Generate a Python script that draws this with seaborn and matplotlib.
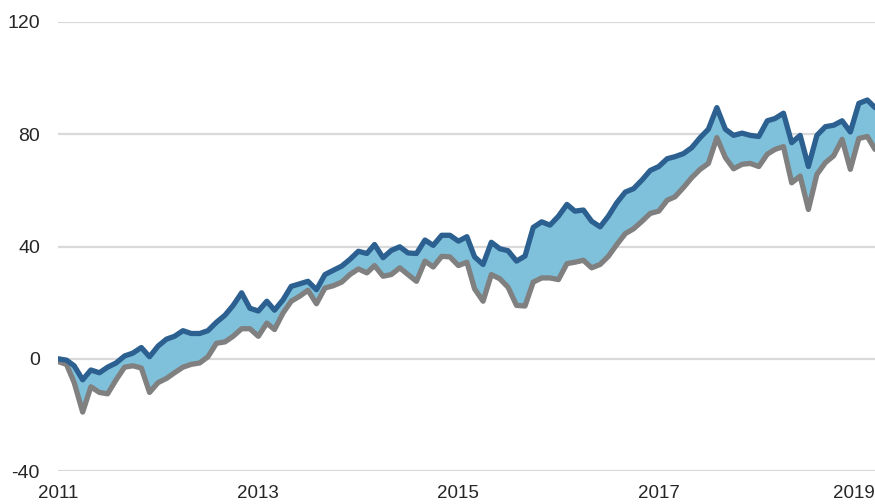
import numpy as np
import pandas as pd
import seaborn as sns
import matplotlib.pyplot as plt
from matplotlib.transforms import ScaledTranslation

# monthly values, Jan 2011 - Mar 2019
upper = [0, -0.5, -2.5, -7.5, -4, -5, -3, -1.5, 1, 2,
         4, 0.7, 4.5, 7, 8, 10, 9, 9, 10, 13,
         15.5, 19, 23.5, 18, 17, 20.5, 17.3, 21, 25.8, 26.7,
         27.6, 24.6, 30, 31.5, 33, 35.4, 38.3, 37.5, 40.7, 36,
         38.6, 39.9, 37.7, 37.5, 42.3, 40.4, 44, 44, 41.9, 43.5,
         36.3, 33.6, 41.5, 39.2, 38.5, 34.8, 36.6, 46.8, 48.8, 47.6,
         50.8, 55, 52.6, 53, 49, 47, 50.8, 55.6, 59.4, 60.6,
         63.7, 67.1, 68.5, 71.3, 72, 73.1, 75.2, 78.8, 81.8, 89.5,
         81.8, 79.6, 80.4, 79.6, 79.2, 84.8, 85.6, 87.5, 77, 79.6,
         68.5, 79.6, 82.7, 83.2, 84.8, 80.8, 91, 92.2, 89.5]
lower = [-1, -2, -8.5, -19, -10, -12, -12.5, -7.5, -3, -2.5,
         -3.3, -12, -8.5, -7, -5, -3, -2, -1.5, 0.7, 5.5,
         6, 8, 10.7, 10.7, 8, 12.7, 10.4, 16.3, 20.5, 22.3,
         24.4, 19.6, 25.2, 26, 27.3, 30, 32, 30.6, 33.2, 29.4,
         30, 32.4, 30, 27.6, 34.8, 32.7, 36.5, 36.3, 33.2, 34.4,
         24.9, 20.5, 30, 28.5, 25.5, 19, 18.8, 27.3, 28.8, 28.8,
         28.2, 33.9, 34.4, 35.1, 32.4, 33.6, 36.5, 40.7, 44.6, 46.3,
         49, 51.8, 52.6, 56.5, 57.7, 61, 64.5, 67.5, 69.6, 78.8,
         71.7, 67.7, 69.3, 69.6, 68.5, 72.9, 74.6, 75.6, 62.7, 65.1,
         53.2, 65.7, 69.9, 72.3, 78.2, 67.5, 78.5, 79.2, 74.6]
tick_years = [2011, 2013, 2015, 2017, 2019]
y_ticks = [-40, 0, 40, 80, 120]

dates = pd.date_range("2011-01-01", periods=len(upper), freq="MS")
df = pd.DataFrame({"date": dates, "upper": upper, "lower": lower})

sns.set_theme(style="white")
plt.rcParams['font.family'] = ['Liberation Sans Narrow', 'Liberation Sans', 'DejaVu Sans']

fig = plt.figure(figsize=(8.75, 5.04), dpi=100)
ax = fig.add_axes([58 / 875, 33 / 504, 817 / 875, 449 / 504])

ax.fill_between(df["date"], df["lower"], df["upper"], color="#7fc1db", lw=0, zorder=1)
sns.lineplot(data=df, x="date", y="lower", ax=ax, color="#808080", lw=3.8, zorder=3)
sns.lineplot(data=df, x="date", y="upper", ax=ax, color="#2c6090", lw=3.8, zorder=4)

ax.set_ylim(-40, 120)
ax.set_xlim(dates[0], dates[-1])
ax.set_yticks(y_ticks)
ax.set_yticklabels([str(v) for v in y_ticks], fontsize=14)
xt = [pd.Timestamp(f"{y}-01-01") for y in tick_years]
ax.set_xticks(xt)
ax.set_xticklabels([str(y) for y in tick_years], fontsize=13.5)
ax.yaxis.grid(True, color="#d9d9d9", lw=1.6, zorder=0)
ax.set_axisbelow(True)
ax.tick_params(axis='y', length=0, pad=13)
ax.tick_params(axis='x', length=0, pad=10)
ax.set_xlabel("")
ax.set_ylabel("")
for s in ax.spines.values():
    s.set_visible(False)

# nudge the last year label so it stays inside the canvas
last = ax.get_xticklabels()[-1]
last.set_transform(last.get_transform() + ScaledTranslation(-5 / 100, 0, fig.dpi_scale_trans))

fig.savefig("out.png", dpi=100)
